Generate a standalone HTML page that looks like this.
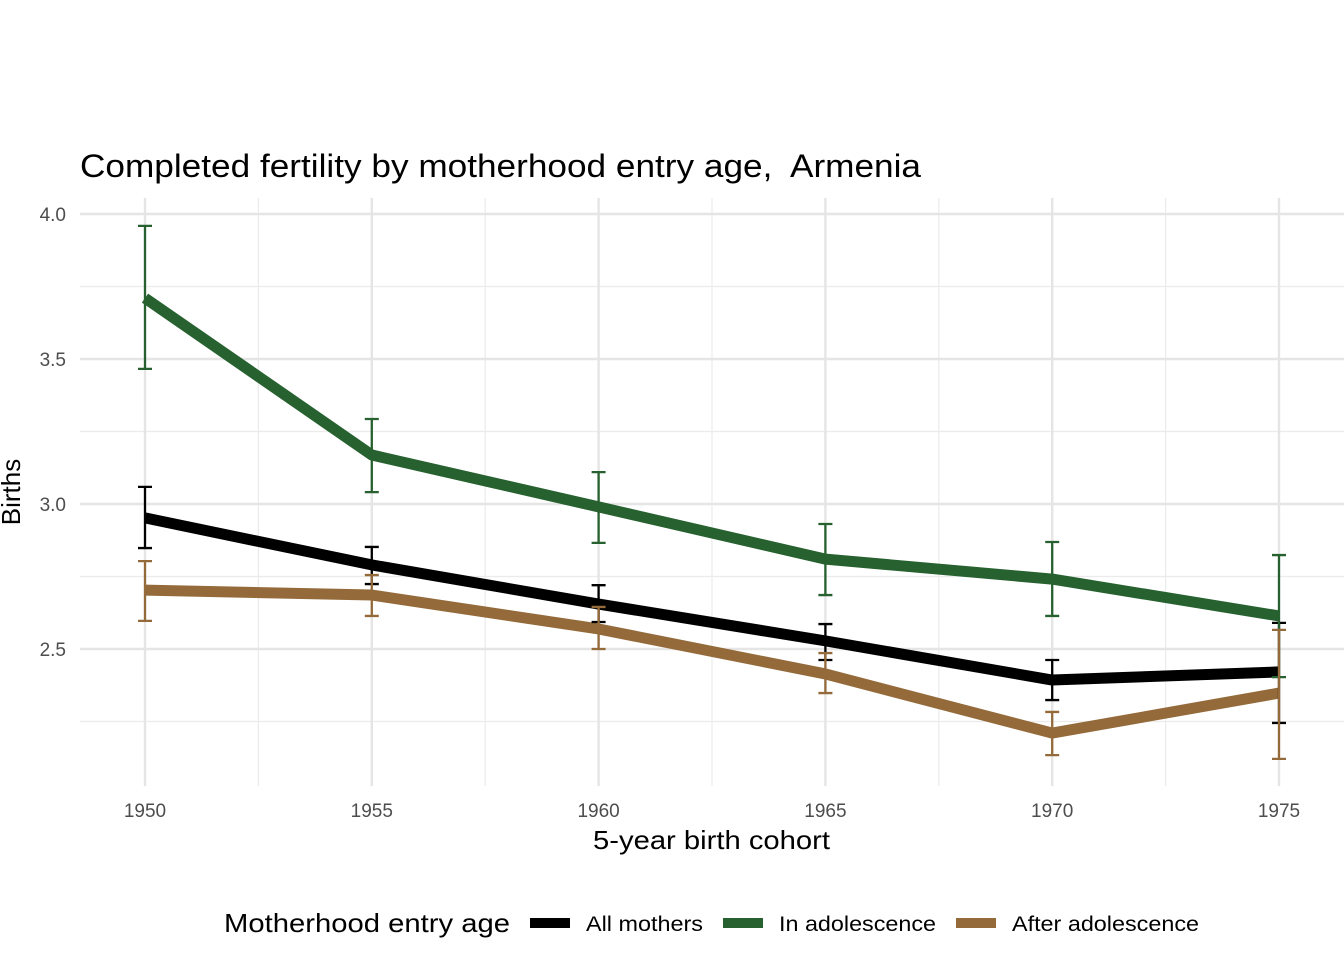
<!DOCTYPE html>
<html><head><meta charset="utf-8"><style>
body{margin:0;background:#fff;font-family:"Liberation Sans",Arial,sans-serif}
</style></head><body>
<svg id="chart" width="1344" height="960" xmlns="http://www.w3.org/2000/svg" font-family="Liberation Sans, Arial, sans-serif">
<rect width="1344" height="960" fill="#fff"/>
<g id="grid"></g>
<g id="series"></g>
<g id="errs"></g>
<g id="ticks"></g>
<text x="80" y="177" font-size="32" fill="#000" textLength="841" lengthAdjust="spacingAndGlyphs" style="white-space:pre">Completed fertility by motherhood entry age,  Armenia</text>
<text x="593" y="849" font-size="26" textLength="237" lengthAdjust="spacingAndGlyphs">5-year birth cohort</text>
<text transform="translate(20,492) rotate(-90)" font-size="26" text-anchor="middle">Births</text>
<g>
<text x="224" y="932" font-size="26" textLength="286" lengthAdjust="spacingAndGlyphs">Motherhood entry age</text>
<rect x="530" y="918" width="40" height="10" fill="#000"/>
<text x="586" y="931" font-size="21" textLength="117" lengthAdjust="spacingAndGlyphs">All mothers</text>
<rect x="723" y="918" width="40" height="10" fill="#26612f"/>
<text x="779" y="931" font-size="21" textLength="157" lengthAdjust="spacingAndGlyphs">In adolescence</text>
<rect x="956" y="918" width="40" height="10" fill="#946a3a"/>
<text x="1012" y="931" font-size="21" textLength="187" lengthAdjust="spacingAndGlyphs">After adolescence</text>
</g>
</svg>
<script>
const years=[1950,1955,1960,1965,1970,1975];
const allMean=[2.952,2.79,2.655,2.528,2.393,2.421];
const allLo=[2.848,2.724,2.593,2.462,2.324,2.245];
const allHi=[3.059,2.852,2.72,2.586,2.462,2.59];
const adoMean=[3.71,3.169,2.99,2.81,2.741,2.614];
const adoLo=[3.466,3.041,2.866,2.686,2.614,2.403];
const adoHi=[3.959,3.293,3.11,2.931,2.869,2.824];
const aftMean=[2.703,2.686,2.569,2.414,2.21,2.348];
const aftLo=[2.597,2.614,2.5,2.348,2.134,2.121];
const aftHi=[2.803,2.755,2.645,2.486,2.283,2.566];
const yTicks=[2.5,3.0,3.5,4.0];
const yMinor=[2.25,2.75,3.25,3.75];
const xMinor=[1952.5,1957.5,1962.5,1967.5,1972.5];
const NS="http://www.w3.org/2000/svg";
const X=v=>145+(v-1950)*(1279-145)/25;
const Y=v=>214+(4-v)*290;
const L=80,R=1344,T=198,B=786;
function mk(tag,attrs,parent){const e=document.createElementNS(NS,tag);for(const k in attrs)e.setAttribute(k,attrs[k]);document.getElementById(parent).appendChild(e);return e;}
yMinor.forEach(v=>{const e=mk('line',{x1:L,x2:R,y1:Y(v),y2:Y(v),stroke:'#ebebeb','stroke-width':1.2},'grid');

});
xMinor.forEach(v=>{const e=mk('line',{x1:X(v),x2:X(v),y1:T,y2:B,stroke:'#ebebeb','stroke-width':1.2},'grid');

});
yTicks.forEach(v=>{const e=mk('line',{x1:L,x2:R,y1:Y(v),y2:Y(v),stroke:'#e5e5e5','stroke-width':2.4},'grid');


const t=mk('text',{x:66,y:Y(v)+7,'font-size':19,fill:'#4d4d4d','text-anchor':'end'},'ticks');t.textContent=v.toFixed(1);

});
years.forEach(v=>{const e=mk('line',{x1:X(v),x2:X(v),y1:T,y2:B,stroke:'#e5e5e5','stroke-width':2.4},'grid');


const t=mk('text',{x:X(v),y:817,'font-size':19,fill:'#4d4d4d','text-anchor':'middle'},'ticks');t.textContent=v;

});
const series=[['all',allMean,allLo,allHi,'#000'],['adolescence',adoMean,adoLo,adoHi,'#26612f'],['after',aftMean,aftLo,aftHi,'#946a3a']];
series.forEach(([n,m,lo,hi,c])=>{
const p=mk('polyline',{points:years.map((y,i)=>X(y)+','+Y(m[i])).join(' '),fill:'none',stroke:c,'stroke-width':11,'stroke-linejoin':'round'},'series');


years.forEach((y,i)=>{const x=X(y);
const d=`M${x},${Y(hi[i])}V${Y(lo[i])}M${x-7},${Y(hi[i])}H${x+7}M${x-7},${Y(lo[i])}H${x+7}`;
const e=mk('path',{d:d,stroke:c,'stroke-width':2.3,fill:'none'},'errs');

});
});
</script>
</body></html>
